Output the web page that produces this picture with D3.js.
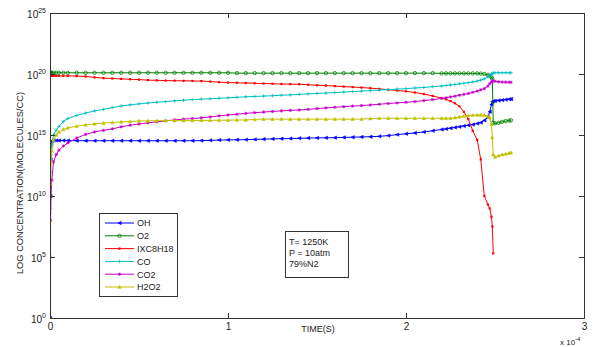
<!DOCTYPE html>
<html><head><meta charset="utf-8">
<script src="https://cdn.jsdelivr.net/npm/d3@7/dist/d3.min.js"></script>
<style>body{margin:0;background:#fff}svg{display:block}text{font-family:"Liberation Sans",Arial,sans-serif}</style>
</head><body><svg id="c" width="595" height="347"></svg>
<script>
// time in units of 1e-4 s
const T = [0,0.001,0.003,0.006,0.01,0.02,0.035,0.05,0.075,0.1,
0.15,0.2,0.25,0.3,0.35,0.4,0.45,0.5,0.55,0.6,0.65,0.7,0.75,0.8,0.85,0.9,0.95,1.0,1.05,1.1,1.15,1.2,1.25,1.3,1.35,1.4,1.45,1.5,1.55,1.6,1.65,1.7,1.75,1.8,1.85,1.9,1.95,2.0,2.05,2.1,2.15,2.2,
2.225,2.25,2.275,2.3,2.325,2.35,2.375,2.4,
2.42,2.44,2.46,2.47,2.48,2.485,2.49,2.5,2.52,2.54,2.56,2.58,2.59];
// log10 concentrations (molecules/cc)
const OH = [0,10,13,14.2,14.5,14.55,14.55,14.55,14.55,14.55,
14.53,14.53,14.53,14.53,14.53,14.53,14.53,14.53,14.53,14.53,14.53,14.53,14.53,14.53,
14.54,14.56,14.58,14.6,14.61,14.62,14.64,14.66,14.68,14.7,14.71,14.73,14.75,14.76,14.77,14.78,14.8,14.82,14.84,14.86,14.89,14.95,15.03,15.1,15.17,15.25,15.35,15.45,
15.5,15.56,15.62,15.68,15.74,15.8,15.86,15.94,
16.02,16.2,16.45,16.9,17.5,17.72,17.78,17.8,17.83,17.86,17.9,17.93,17.95];
const O2 = [20.1,20.1,20.1,20.1,20.1,20.1,20.1,20.1,20.1,20.1,
20.1,20.1,20.1,20.1,20.1,20.1,20.1,20.1,20.1,20.1,20.1,20.1,20.1,20.1,20.1,20.1,20.1,20.1,
20.07,20.07,20.07,20.07,20.07,20.07,20.07,20.07,20.07,20.07,20.07,20.07,20.07,20.07,20.07,20.07,20.07,20.07,20.07,20.07,20.07,20.07,20.07,
20.05,20.05,20.05,20.05,20.05,20.05,20.05,20.05,20.05,
20.03,20.0,19.93,19.85,19.75,19.6,16.0,15.95,16.0,16.08,16.14,16.18,16.2];
const IXC8H18 = [19.85,19.85,19.85,19.85,19.85,19.85,19.85,19.85,19.85,19.85,
19.83,19.8,19.72,19.66,19.63,19.6,19.57,19.54,19.5,19.48,19.46,19.45,19.44,19.43,19.42,
19.38,19.33,19.3,19.28,19.26,19.24,19.22,19.2,19.18,19.17,19.16,19.12,19.08,19.05,19.01,18.97,18.93,18.89,18.84,18.78,18.71,18.65,18.58,18.48,18.36,18.2,18.03,
17.92,17.78,17.6,17.35,16.9,16.3,15.35,14.6,
13.0,10.0,9.3,9.0,8.3,7.5,5.3,null,null,null,null,null,null];
const CO = [0,9,12,13.4,14.2,15.0,15.4,15.7,16.1,16.35,
16.6,16.8,16.97,17.1,17.25,17.38,17.47,17.55,17.62,17.68,17.74,17.8,17.85,17.9,17.94,17.97,18.01,18.05,18.09,18.13,18.16,18.19,18.22,18.26,18.29,18.33,18.37,18.41,18.44,18.48,18.52,18.56,18.6,18.64,18.68,18.72,18.76,18.8,18.85,18.9,18.96,19.02,
19.06,19.1,19.14,19.19,19.24,19.29,19.35,19.42,
19.5,19.6,19.75,19.85,19.97,20.05,20.08,20.1,20.1,20.1,20.1,20.1,20.1];
const CO2 = [0,5,8,10,11.3,12.8,13.4,13.75,14.1,14.35,
14.75,15.05,15.25,15.38,15.5,15.67,15.8,15.9,16.0,16.08,16.16,16.24,16.3,16.35,16.4,16.48,16.57,16.64,16.7,16.77,16.83,16.88,16.93,16.98,17.02,17.05,17.1,17.16,17.22,17.27,17.32,17.37,17.41,17.46,17.52,17.58,17.63,17.68,17.74,17.82,17.9,18.0,
18.05,18.12,18.18,18.26,18.33,18.4,18.5,18.6,
18.7,18.8,19.0,19.2,19.35,19.42,19.43,19.4,19.36,19.34,19.33,19.32,19.32];
const H2O2 = [0,8,11,12.8,13.7,14.6,15.0,15.25,15.45,15.58,
15.72,15.83,15.92,15.98,16.03,16.07,16.11,16.15,16.16,16.17,16.18,16.18,16.18,16.18,16.19,16.2,16.21,16.22,16.23,16.23,16.28,16.3,16.3,16.3,16.3,16.3,16.3,16.3,16.3,16.3,16.3,16.3,16.3,16.35,16.37,16.37,16.37,16.37,16.37,16.37,16.37,16.37,
16.37,16.37,16.42,16.48,16.55,16.6,16.63,16.64,
16.64,16.62,16.55,16.42,15.9,14.8,13.4,13.2,13.3,13.4,13.45,13.52,13.55];

const seriesNames = ["OH","O2","IXC8H18","CO","CO2","H2O2"];
const seriesData = [OH,O2,IXC8H18,CO,CO2,H2O2];
const seriesColors = ["#0000ff","#008000","#ff0000","#00c0c0","#c800c8","#c0c000"];
const seriesMarkers = ["triLeft","circle","square","plus","star","triUp"];
const xTicks = [0,1,2,3];
const yTicks = [0,5,10,15,20,25];
const infoLines = ["T= 1250K","P = 10atm","79%N2"];

const svg = d3.select("#c");
const L=50,R=584,TOP=13,B=318;
const x = d3.scaleLinear().domain([0,3]).range([L,R]);
const y = d3.scaleLog().domain([1,1e25]).range([B,TOP]);

svg.append("defs").append("clipPath").attr("id","clip").append("rect")
  .attr("x",L).attr("y",TOP).attr("width",R-L).attr("height",B-TOP);

function marker(g,type,cx,cy,col){
  const s=1.7;
  if(type==="triLeft") g.append("path").attr("d",`M${cx-s},${cy}L${cx+s},${cy-s}L${cx+s},${cy+s}Z`).attr("fill",col).attr("stroke",col).attr("stroke-width",0.5);
  else if(type==="circle") g.append("circle").attr("cx",cx).attr("cy",cy).attr("r",1.7).attr("fill","none").attr("stroke",col).attr("stroke-width",0.8);
  else if(type==="square") g.append("rect").attr("x",cx-1.1).attr("y",cy-1.1).attr("width",2.2).attr("height",2.2).attr("fill",col);
  else if(type==="plus") g.append("path").attr("d",`M${cx-1.7},${cy}H${cx+1.7}M${cx},${cy-1.7}V${cy+1.7}`).attr("stroke",col).attr("stroke-width",0.8);
  else if(type==="star") g.append("path").attr("d",`M${cx-1.6},${cy}H${cx+1.6}M${cx},${cy-1.6}V${cy+1.6}M${cx-1.2},${cy-1.2}L${cx+1.2},${cy+1.2}M${cx-1.2},${cy+1.2}L${cx+1.2},${cy-1.2}`).attr("stroke",col).attr("stroke-width",0.8);
  else if(type==="triUp") g.append("path").attr("d",`M${cx},${cy-s}L${cx+s},${cy+s*0.8}L${cx-s},${cy+s*0.8}Z`).attr("fill",col).attr("stroke",col).attr("stroke-width",0.5);
}

const plot = svg.append("g").attr("clip-path","url(#clip)");
const line = d3.line().defined(d=>d[1]!==null).x(d=>x(d[0])).y(d=>y(Math.pow(10,d[1])));
seriesData.forEach((arr,i)=>{
  const pts = T.map((t,j)=>[t,arr[j]]);
  plot.append("path").datum(pts).attr("d",line).attr("fill","none")
    .attr("stroke",seriesColors[i]).attr("stroke-width",1);
  const mg = plot.append("g");
  pts.filter(p=>p[1]!==null).forEach(p=>marker(mg,seriesMarkers[i],x(p[0]),y(Math.pow(10,p[1])),seriesColors[i]));
});

// axes
const axCol="#333";
const xb = svg.append("g").attr("transform",`translate(0,${B})`)
  .call(d3.axisBottom(x).tickValues(xTicks).tickSize(-5).tickPadding(5).tickFormat(d3.format("d")));
const xt = svg.append("g").attr("transform",`translate(0,${TOP})`)
  .call(d3.axisTop(x).tickValues(xTicks).tickSize(-5).tickFormat(""));
const yl = svg.append("g").attr("transform",`translate(${L},0)`)
  .call(d3.axisLeft(y).tickValues(yTicks.map(e=>Math.pow(10,e))).tickSize(-5).tickPadding(4).tickFormat(""));
const yr = svg.append("g").attr("transform",`translate(${R},0)`)
  .call(d3.axisRight(y).tickValues(yTicks.map(e=>Math.pow(10,e))).tickSize(-5).tickFormat(""));
[xb,xt,yl,yr].forEach(g=>{g.selectAll("path,line").attr("stroke",axCol);g.select(".domain").attr("stroke",axCol);});
xb.selectAll("text").attr("font-size",10).attr("fill","#222").attr("font-family","Liberation Sans, Arial");

yl.selectAll(".tick").each(function(d){
  const e = Math.round(Math.log10(d));
  const t = d3.select(this).append("text").attr("x",-4).attr("y",4).attr("text-anchor","end")
    .attr("fill","#222").attr("font-size",10);
  t.append("tspan").text("10");
  t.append("tspan").attr("font-size",7).attr("dy",-5).text(String(e));
});

// axis labels
svg.append("text").attr("x",318).attr("y",332).attr("text-anchor","middle").attr("font-size",9).attr("fill","#222").text("TIME(S)");
const mult = svg.append("text").attr("x",560).attr("y",345).attr("font-size",8).attr("fill","#222");
mult.append("tspan").text("x 10");
mult.append("tspan").attr("font-size",6).attr("dy",-4).text("-4");
svg.append("text").attr("transform","translate(23,183) rotate(-90)").attr("text-anchor","middle")
  .attr("font-size",9.3).attr("fill","#222").text("LOG CONCENTRATION(MOLECULES/CC)");

// legend
const lg = svg.append("g");
lg.append("rect").attr("x",99.5).attr("y",213.5).attr("width",78).attr("height",83).attr("fill","#fff").attr("stroke",axCol);
seriesNames.forEach((n,i)=>{
  const yy = 223 + i*12.8;
  lg.append("line").attr("x1",105).attr("x2",134).attr("y1",yy).attr("y2",yy).attr("stroke",seriesColors[i]).attr("stroke-width",1);
  marker(lg,seriesMarkers[i],119.5,yy,seriesColors[i]);
  lg.append("text").attr("x",137).attr("y",yy+3.3).attr("font-size",9).attr("fill","#222").text(n);
});

// info box
const ib = svg.append("g");
ib.append("rect").attr("x",285.5).attr("y",231.5).attr("width",63).attr("height",46).attr("fill","#fff").attr("stroke",axCol);
infoLines.forEach((s,i)=>{
  ib.append("text").attr("x",289).attr("y",245+i*11).attr("font-size",9).attr("fill","#222").text(s);
});
</script></body></html>
